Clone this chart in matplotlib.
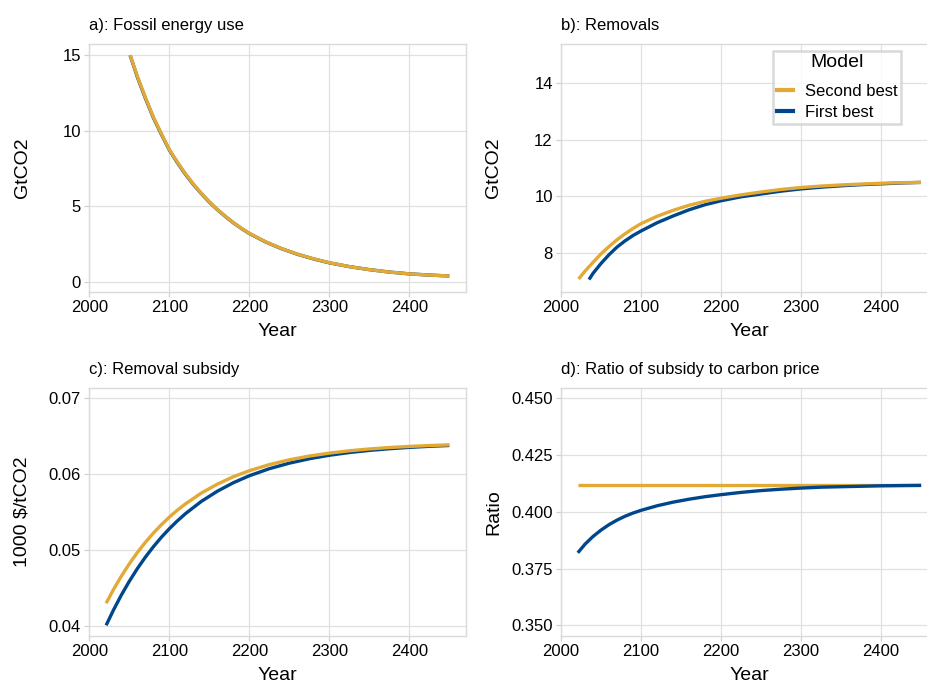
import matplotlib
matplotlib.use("Agg")
import matplotlib.pyplot as plt
from matplotlib.lines import Line2D

plt.rcParams['font.family'] = ['Liberation Sans', 'DejaVu Sans']

# colours
col_second = '#E2A935'
col_first = '#00468B'
grid_col = '#E0E0E0'

# a) fossil energy use (GtCO2)
years_a = [2051, 2060, 2070, 2080, 2090, 2100, 2110, 2120, 2130, 2140, 2150, 2160,
           2170, 2180, 2190, 2200, 2220, 2240, 2260, 2280, 2300, 2325, 2350, 2375,
           2400, 2425, 2450]
fossil_second = [15.0, 13.6, 12.2, 10.9, 9.8, 8.75, 7.91, 7.15, 6.47, 5.85, 5.29, 4.78,
                 4.33, 3.91, 3.54, 3.2, 2.65, 2.2, 1.83, 1.52, 1.26, 1.0, 0.8, 0.64,
                 0.52, 0.44, 0.38]
fossil_first = [14.98, 13.55, 12.15, 10.86, 9.76, 8.72, 7.88, 7.12, 6.44, 5.83, 5.27, 4.77,
                4.32, 3.9, 3.53, 3.19, 2.64, 2.19, 1.82, 1.51, 1.25, 1.0, 0.8, 0.64,
                0.52, 0.44, 0.38]

# b) removals (GtCO2)
years_b_second = [2022, 2030, 2040, 2050, 2060, 2070, 2080, 2090, 2100, 2120, 2140, 2160,
                  2180, 2200, 2225, 2250, 2275, 2300, 2325, 2350, 2375, 2400, 2425, 2450]
removals_second = [7.07, 7.35, 7.66, 7.96, 8.22, 8.46, 8.67, 8.86, 9.03, 9.29, 9.5, 9.68,
                   9.82, 9.93, 10.05, 10.15, 10.24, 10.31, 10.36, 10.40, 10.43, 10.46, 10.48, 10.49]
years_b_first = [2035, 2040, 2050, 2060, 2070, 2080, 2090, 2100, 2120, 2140, 2160, 2180,
                 2200, 2225, 2250, 2275, 2300, 2325, 2350, 2375, 2400, 2425, 2450]
removals_first = [7.05, 7.27, 7.62, 7.93, 8.2, 8.42, 8.61, 8.77, 9.06, 9.3, 9.52, 9.7,
                  9.84, 9.98, 10.08, 10.18, 10.26, 10.32, 10.37, 10.41, 10.44, 10.47, 10.49]

# c) removal subsidy (1000 $/tCO2)
years_c = [2021, 2030, 2040, 2050, 2060, 2070, 2080, 2090, 2100, 2110, 2120, 2140, 2160,
           2180, 2200, 2225, 2250, 2275, 2300, 2325, 2350, 2375, 2400, 2425, 2450]
subsidy_second = [0.0430, 0.04477, 0.04657, 0.0482, 0.04968, 0.05102, 0.05224, 0.05334,
                  0.05435, 0.05526, 0.05608, 0.05752, 0.05869, 0.05967, 0.06046, 0.06127,
                  0.0619, 0.0624, 0.06278, 0.06309, 0.06333, 0.06352, 0.06366, 0.06378,
                  0.06387]
subsidy_first = [0.0401, 0.04207, 0.04408, 0.0459, 0.04756, 0.04907, 0.05044, 0.05169,
                 0.05282, 0.05385, 0.05479, 0.05642, 0.05776, 0.05888, 0.0598, 0.06073,
                 0.06146, 0.06204, 0.0625, 0.06286, 0.06314, 0.06336, 0.06354, 0.06368,
                 0.06379]

# d) ratio of subsidy to carbon price
years_d_second = [2021, 2450]
ratio_second = [0.4119, 0.4119]
years_d_first = [2021, 2030, 2040, 2050, 2060, 2070, 2080, 2090, 2100, 2120, 2140, 2160,
                 2180, 2200, 2225, 2250, 2275, 2300, 2325, 2350, 2375, 2400, 2425, 2450]
ratio_first = [0.3820, 0.3858, 0.3892, 0.3920, 0.3944, 0.3964, 0.3981, 0.3995, 0.4007,
               0.4027, 0.4043, 0.4056, 0.4067, 0.4076, 0.4086, 0.4094, 0.4100, 0.4105,
               0.4109, 0.4111, 0.4113, 0.4115, 0.4116, 0.4117]

x_ticks = [2000, 2100, 2200, 2300, 2400]

fig = plt.figure(figsize=(9.27, 6.84), dpi=100)
W, H = 927, 684
aw, ah = 376.7, 248


def make_ax(left, top):
    return fig.add_axes([left / W, (H - top - ah) / H, aw / W, ah / H])


ax_a = make_ax(89, 44)
ax_b = make_ax(560.7, 44)
ax_c = make_ax(89, 387.7)
ax_d = make_ax(560.7, 387.7)


def style(ax, title, ylabel, ylim, yticks, ylabels):
    ax.set_xlim(1999.6, 2470.5)
    ax.set_ylim(*ylim)
    ax.set_xticks(x_ticks)
    ax.set_yticks(yticks)
    ax.set_yticklabels(ylabels)
    ax.grid(True, color=grid_col, lw=0.9)
    ax.set_axisbelow(True)
    for s in ax.spines.values():
        s.set_color('#DADADA')
        s.set_linewidth(1.0)
    ax.tick_params(length=3.5, width=0.9, color='#D0D0D0', pad=2.2,
                   labelsize=12, labelcolor='black')
    ax.text(0, 1 + 13.7 / ah, title, transform=ax.transAxes, fontsize=12,
            ha='left', va='baseline')
    ax.set_xlabel('Year', fontsize=14)
    ax.xaxis.set_label_coords(0.5, -44 / ah)
    ax.xaxis.label.set_va('baseline')
    ax.set_ylabel(ylabel, fontsize=14)
    ax.yaxis.set_label_coords(-67 / aw, 0.5)
    ax.yaxis.label.set_va('center')


lw = 2.4

ax_a.plot(years_a, fossil_first, color=col_first, lw=lw, solid_capstyle='butt')
ax_a.plot(years_a, fossil_second, color=col_second, lw=lw, solid_capstyle='butt')
style(ax_a, 'a): Fossil energy use', 'GtCO2', (-0.68, 15.73),
      [0, 5, 10, 15], ['0', '5', '10', '15'])

ax_b.plot(years_b_first, removals_first, color=col_first, lw=lw, solid_capstyle='butt')
ax_b.plot(years_b_second, removals_second, color=col_second, lw=lw, solid_capstyle='butt')
style(ax_b, 'b): Removals', 'GtCO2', (6.61, 15.39),
      [8, 10, 12, 14], ['8', '10', '12', '14'])

ax_c.plot(years_c, subsidy_first, color=col_first, lw=lw, solid_capstyle='butt')
ax_c.plot(years_c, subsidy_second, color=col_second, lw=lw, solid_capstyle='butt')
style(ax_c, 'c): Removal subsidy', '1000 $/tCO2', (0.03873, 0.0714),
      [0.04, 0.05, 0.06, 0.07], ['0.04', '0.05', '0.06', '0.07'])

ax_d.plot(years_d_second, ratio_second, color=col_second, lw=lw, solid_capstyle='butt')
ax_d.plot(years_d_first, ratio_first, color=col_first, lw=lw, solid_capstyle='butt')
style(ax_d, 'd): Ratio of subsidy to carbon price', 'Ratio', (0.3455, 0.4547),
      [0.35, 0.375, 0.4, 0.425, 0.45], ['0.350', '0.375', '0.400', '0.425', '0.450'])

handles = [Line2D([], [], color=col_second, lw=3),
           Line2D([], [], color=col_first, lw=3)]
leg = ax_b.legend(handles, ['Second best', 'First best'], title='Model',
                  loc='upper right', bbox_to_anchor=(0.903, 0.973),
                  fontsize=12, title_fontsize=14, frameon=True, fancybox=False,
                  borderpad=0.2, handlelength=1.0, handletextpad=0.7,
                  labelspacing=0.4, borderaxespad=0)
leg._legend_box.sep = 9
leg.get_frame().set_edgecolor('#D0D0D0')
leg.get_frame().set_linewidth(1.8)

fig.savefig('out.png', dpi=100)
